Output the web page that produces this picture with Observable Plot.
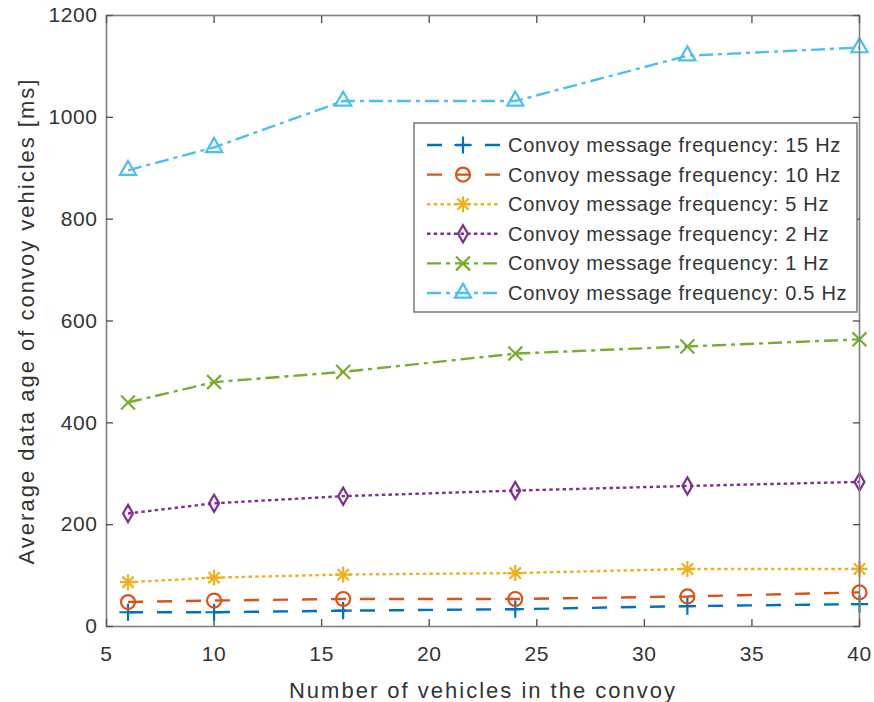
<!DOCTYPE html>
<html>
<head>
<meta charset="utf-8">
<script src="https://cdn.jsdelivr.net/npm/d3@7"></script>
<script src="https://cdn.jsdelivr.net/npm/@observablehq/plot@0.6"></script>
<style>
  body { margin: 0; background: #fff; }
  #chart { width: 874px; height: 702px; }
</style>
</head>
<body>
<div id="chart"></div>
<script>
// Number of vehicles in the convoy (x values)
const vehicles = [6, 10, 16, 24, 32, 40];

// Average data age [ms] for each convoy message frequency
const age15Hz  = [28, 28, 31, 34, 40, 44];
const age10Hz  = [48, 51, 54, 54, 59, 67];
const age5Hz   = [87, 96, 102, 105, 113, 113];
const age2Hz   = [222, 242, 256, 267, 276, 284];
const age1Hz   = [440, 480, 500, 536, 550, 564];
const age05Hz  = [896, 941, 1032, 1032, 1121, 1137];

const seriesNames = [
  "Convoy message frequency: 15 Hz",
  "Convoy message frequency: 10 Hz",
  "Convoy message frequency: 5 Hz",
  "Convoy message frequency: 2 Hz",
  "Convoy message frequency: 1 Hz",
  "Convoy message frequency: 0.5 Hz"
];
const seriesValues = [age15Hz, age10Hz, age5Hz, age2Hz, age1Hz, age05Hz];

const xTicks = [5, 10, 15, 20, 25, 30, 35, 40];
const yTicks = [0, 200, 400, 600, 800, 1000, 1200];

const xLabel = "Number of vehicles in the convoy";
const yLabel = "Average data age of convoy vehicles [ms]";

// Line and marker styling per series (MATLAB default colour order)
const seriesStyles = [
  { color: "#0072BD", dash: "15,14",      markers: [{ symbol: "plus", r: 5.6 }] },
  { color: "#D95319", dash: "15,14",      markers: [{ symbol: "circle", r: 7 }] },
  { color: "#EDB120", dash: "3.5,3.2",    markers: [{ symbol: "plus", r: 5.2 }, { symbol: "times", r: 5.2 }] },
  { color: "#7E2F8E", dash: "3.5,3.2",    markers: [{ symbol: "diamond", r: 5.2 }] },
  { color: "#77AC30", dash: "14,5,4,5",   markers: [{ symbol: "times", r: 6.4 }] },
  { color: "#4DBEEE", dash: "14,5,4,5",   markers: [{ symbol: "triangle", r: 6 }] }
];

const rows = seriesNames.flatMap((name, i) =>
  vehicles.map((v, j) => ({ series: name, vehicles: v, age: seriesValues[i][j] }))
);

const FONT = "'Liberation Sans', Arial, Helvetica, sans-serif";
const AXIS_GRAY = "#808080";
const TEXT = "#333333";

const dataMarks = seriesNames.flatMap((name, i) => {
  const s = seriesStyles[i];
  const d = rows.filter(r => r.series === name);
  return [
    Plot.line(d, {
      x: "vehicles", y: "age", stroke: s.color, strokeWidth: 2.4,
      strokeDasharray: s.dash, strokeLinecap: "butt", strokeLinejoin: "miter"
    }),
    ...s.markers.map(m => Plot.dot(d, {
      x: "vehicles", y: "age", symbol: m.symbol, r: m.r,
      stroke: s.color, fill: "none", strokeWidth: 2.2
    }))
  ];
});

const chart = Plot.plot({
  width: 874,
  height: 702,
  marginLeft: 106,
  marginRight: 15,
  marginTop: 15,
  marginBottom: 76,
  style: { fontFamily: FONT, fontSize: "21px", color: TEXT, background: "#fff", letterSpacing: "0.6px" },
  x: { domain: [5, 40], label: null },
  y: { domain: [0, 1200], label: null },
  marks: [
    ...dataMarks,
    Plot.frame({ stroke: AXIS_GRAY, strokeWidth: 1.6 }),
    Plot.axisX({ anchor: "bottom", ticks: xTicks, tickSize: -7, tickPadding: 27, label: null,
                 tickFormat: d3.format("d"), stroke: "#555", strokeWidth: 1.4, fill: TEXT, fontSize: 21 }),
    Plot.axisX({ anchor: "top", ticks: xTicks, tickSize: -7, tickFormat: () => "", label: null,
                 stroke: "#555", strokeWidth: 1.4 }),
    Plot.axisY({ anchor: "left", ticks: yTicks, tickSize: -7, tickPadding: 16, label: null,
                 tickFormat: d3.format("d"), stroke: "#555", strokeWidth: 1.4, fill: TEXT, fontSize: 21 }),
    Plot.axisY({ anchor: "right", ticks: yTicks, tickSize: -7, tickFormat: () => "", label: null,
                 stroke: "#555", strokeWidth: 1.4 }),
    Plot.text([xLabel], { text: d => d, frameAnchor: "bottom", textAnchor: "middle", lineAnchor: "middle",
                          dy: 64, fontSize: 22, fill: TEXT }),
    Plot.text([yLabel], { text: d => d, frameAnchor: "left", textAnchor: "middle", lineAnchor: "middle",
                          dx: -80, rotate: -90, fontSize: 22, fill: TEXT })
  ]
});

document.getElementById("chart").appendChild(chart);

// Wider tracking on the axis titles
d3.select(chart).selectAll("text").filter(function () {
  return this.textContent === xLabel || this.textContent === yLabel;
}).attr("letter-spacing", "2px");

// Legend box inside the axes (upper right)
const symbolTypes = {
  plus: d3.symbolPlus, times: d3.symbolTimes, circle: d3.symbolCircle,
  diamond: d3.symbolDiamond, triangle: d3.symbolTriangle
};
const legend = d3.select(chart).append("g").attr("class", "legend").attr("text-anchor", "start");
const lx = 414, ly = 123, lw = 443, lh = 189, rowGap = 29.6, firstRow = 145;
legend.append("rect")
  .attr("x", lx).attr("y", ly).attr("width", lw).attr("height", lh)
  .attr("fill", "#fff").attr("stroke", AXIS_GRAY).attr("stroke-width", 1.6);

seriesNames.forEach((name, i) => {
  const s = seriesStyles[i];
  const cy = firstRow + i * rowGap;
  const row = legend.append("g");
  row.append("line")
    .attr("x1", 427).attr("x2", 500).attr("y1", cy).attr("y2", cy)
    .attr("stroke", s.color).attr("stroke-width", 2.4)
    .attr("stroke-dasharray", s.dash).attr("stroke-linecap", "butt");
  s.markers.forEach(m => {
    row.append("path")
      .attr("transform", `translate(463,${cy})`)
      .attr("d", d3.symbol(symbolTypes[m.symbol], Math.PI * m.r * m.r)())
      .attr("fill", "none").attr("stroke", s.color).attr("stroke-width", 2.2);
  });
  row.append("text")
    .attr("x", 508).attr("y", cy).attr("dy", "0.35em")
    .attr("text-anchor", "start")
    .attr("font-size", 20).attr("letter-spacing", "0.7px")
    .attr("fill", TEXT).text(name);
});
</script>
</body>
</html>
